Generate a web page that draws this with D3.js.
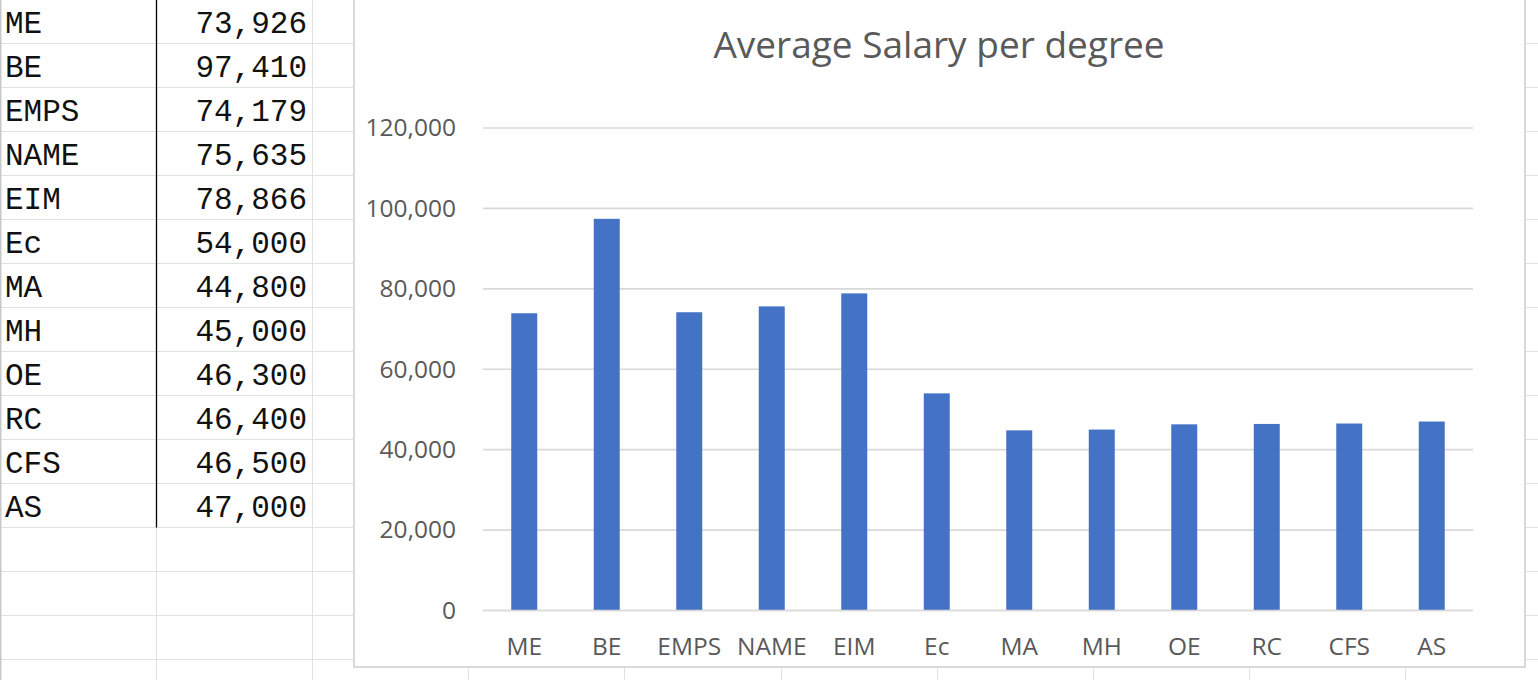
<!DOCTYPE html>
<html><head><meta charset="utf-8">
<script src="https://cdn.jsdelivr.net/npm/d3@7"></script>
<style>html,body{margin:0;padding:0;background:#fff;overflow:hidden}svg{display:block}</style>
</head><body>
<svg id="c" width="1538" height="680"></svg>
<script>
const categories = ["ME","BE","EMPS","NAME","EIM","Ec","MA","MH","OE","RC","CFS","AS"];
const salaries = [73926,97410,74179,75635,78866,54000,44800,45000,46300,46400,46500,47000];
const yTicks = [0,20000,40000,60000,80000,100000,120000];
const title = "Average Salary per degree";

const svg = d3.select("#c");
const W = 1538, H = 680;
const gridColor = "#e1e1e1";
const rowH = 44, colW = 156.1;

// spreadsheet grid
const grid = svg.append("g");
d3.range(0, 16).forEach(i => {
  grid.append("line").attr("x1",0).attr("x2",W).attr("y1",43.5+rowH*i).attr("y2",43.5+rowH*i)
    .attr("stroke",gridColor).attr("stroke-width",1);
});
d3.range(0, 11).forEach(i => {
  const x = Math.round(colW*i)+0.5;
  grid.append("line").attr("x1",x).attr("x2",x).attr("y1",0).attr("y2",H)
    .attr("stroke", i===0 ? "#c8c8c8" : gridColor).attr("stroke-width", i===0?2:1);
});
grid.append("line").attr("x1",156.5).attr("x2",156.5).attr("y1",0).attr("y2",43.5+rowH*11)
  .attr("stroke","#000").attr("stroke-width",1.3);

// table text
const fmt = d3.format(",");
const tbl = svg.append("g").attr("font-family","'Courier New', Courier, 'Nimbus Mono PS', FreeMono, 'Liberation Mono', monospace")
  .attr("font-size",31).attr("fill","#111");
categories.forEach((c,i) => {
  tbl.append("text").attr("x",5).attr("y",33+rowH*i).text(c);
  tbl.append("text").attr("x",307).attr("y",33+rowH*i).attr("text-anchor","end").text(fmt(salaries[i]));
});

// chart box
svg.append("rect").attr("x",354).attr("y",-5).attr("width",1171).attr("height",672)
  .attr("fill","#fff").attr("stroke","#d9d9d9").attr("stroke-width",2);

const x = d3.scaleBand().domain(categories).range([483,1473]).paddingInner(0.685).paddingOuter(0.3425);
const y = d3.scaleLinear().domain([0,120000]).range([610.5,128]);

const font = "'Open Sans', sans-serif";
const g = svg.append("g");
// gridlines
g.selectAll("line.grid").data(yTicks).join("line")
  .attr("x1",483).attr("x2",1473).attr("y1",d=>y(d)).attr("y2",d=>y(d))
  .attr("stroke","#d9d9d9").attr("stroke-width",1.6);

// y axis
const yAxis = d3.axisLeft(y).tickValues(yTicks).tickFormat(d3.format(",")).tickSize(0).tickPadding(27);
const ya = svg.append("g").attr("transform","translate(483,0)").call(yAxis);
ya.select(".domain").remove();
ya.selectAll("text").attr("font-family",font).attr("font-size",24.5).attr("fill","#595959");

// bars
g.selectAll("rect.bar").data(salaries).join("rect")
  .attr("x",(d,i)=>x(categories[i])).attr("width",x.bandwidth())
  .attr("y",d=>y(d)).attr("height",d=>y(0)-y(d)).attr("fill","#4472C4");

// baseline
g.append("line").attr("x1",483).attr("x2",1473).attr("y1",y(0)).attr("y2",y(0))
  .attr("stroke","#d9d9d9").attr("stroke-width",1.6);

// x axis
const xAxis = d3.axisBottom(x).tickSize(0).tickPadding(27);
const xa = svg.append("g").attr("transform",`translate(0,${y(0)})`).call(xAxis);
xa.select(".domain").remove();
xa.selectAll("text").attr("font-family",font).attr("font-size",24.5).attr("fill","#595959");

// title
svg.append("text").attr("x",939).attr("y",58).attr("text-anchor","middle")
  .attr("font-family",font).attr("font-size",37).attr("fill","#595959").text(title);
</script>
</body></html>
